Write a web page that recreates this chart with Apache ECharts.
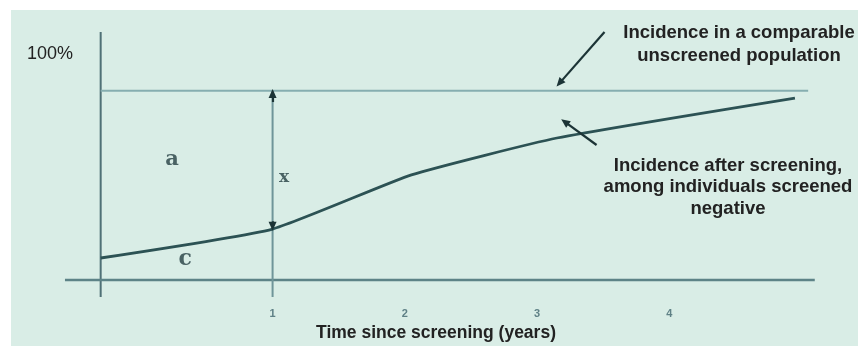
<!DOCTYPE html>
<html>
<head>
<meta charset="utf-8">
<script src="https://cdn.jsdelivr.net/npm/echarts@6/dist/echarts.min.js"></script>
<style>
html,body{margin:0;padding:0;background:#ffffff;}
#chart{width:858px;height:346px;}
</style>
</head>
<body>
<div id="chart"></div>
<script>
// ---- data ----
var years = [-0.3, 1, 2.05, 3.15, 4.95];              // time since screening
var screenedIncidence = [11.6, 26.9, 55.5, 75, 96.1];   // % incidence among screened-negative
var unscreenedIncidence = 100;                          // % comparable unscreened population
var tickValues = [1, 2, 3, 4];
var tickLabels = ['1', '2', '3', '4'];
var xLabel = 'Time since screening (years)';
var yTopLabel = '100%';

var lineData = years.map(function (y, i) { return [y, screenedIncidence[i]]; });

var bg = '#d9ede6';
var chart = echarts.init(document.getElementById('chart'));

var option = {
  backgroundColor: '#ffffff',
  animation: false,
  grid: { left: 61, right: 30, top: 32, bottom: 49 },
  xAxis: {
    type: 'value', min: -0.6, max: 5.2,
    axisLine: { show: false },
    splitLine: { show: false },
    axisTick: { show: false },
    axisLabel: {
      customValues: tickValues,
      formatter: function (v) { var i = tickValues.indexOf(v); return i >= 0 ? tickLabels[i] : ''; },
      color: '#5f8186', fontSize: 11, fontWeight: 'bold', margin: 11,
      fontFamily: 'Liberation Sans'
    }
  },
  yAxis: {
    type: 'value', min: -9, max: 131,
    show: false
  },
  graphic: [
    { type: 'rect', z: -10, silent: true, shape: { x: 11, y: 10, width: 847, height: 336 }, style: { fill: bg } },
    { type: 'text', z: 10, left: 27, top: 45, style: { text: yTopLabel, font: '18px "Liberation Sans"', fill: '#222' } },
    { type: 'text', z: 10, x: 739, y: 44, style: { text: 'Incidence in a comparable\nunscreened population', font: 'bold 18.5px "Liberation Sans"', fill: '#222', align: 'center', verticalAlign: 'middle', lineHeight: 23 } },
    { type: 'text', z: 10, x: 728, y: 187, style: { text: 'Incidence after screening,\namong individuals screened\nnegative', font: 'bold 18.5px "Liberation Sans"', fill: '#222', align: 'center', verticalAlign: 'middle', lineHeight: 21.5 } },
    { type: 'text', z: 10, x: 436, y: 333, style: { text: xLabel, font: 'bold 17.5px "Liberation Sans"', fill: '#222', align: 'center', verticalAlign: 'middle' } }
  ],
  series: [
    { name: 'yAxisLine', type: 'line', symbol: 'none', silent: true,
      data: [[-0.3, -9], [-0.3, 131]], lineStyle: { color: '#4f7176', width: 2 } },
    { name: 'baseline', type: 'line', symbol: 'none', silent: true,
      data: [[-0.57, 0], [5.1, 0]], lineStyle: { color: '#5d8387', width: 2.5 } },
    { name: 'unscreened', type: 'line', symbol: 'none', silent: true,
      data: [[-0.3, unscreenedIncidence], [5.05, unscreenedIncidence]], lineStyle: { color: '#86aeb0', width: 2 } },
    { name: 'year1', type: 'line', symbol: 'none', silent: true,
      data: [[1, -9], [1, unscreenedIncidence]], lineStyle: { color: '#6f9599', width: 2 } },
    { name: 'screened', type: 'line', symbol: 'none', silent: true, smooth: 0.15,
      data: lineData, lineStyle: { color: '#2c5254', width: 2.8 } },
    { name: 'annotations', type: 'line', symbol: 'none', silent: true, data: [],
      markLine: {
        silent: true, symbol: ['none', 'triangle'], symbolSize: [8, 9],
        label: { show: false },
        lineStyle: { type: 'solid', color: '#1c3436', width: 2.2 },
        data: [
          [{ coord: [1, 94] }, { coord: [1, unscreenedIncidence - 1.5] }],
          [{ coord: [1, 31] }, { coord: [1, screenedIncidence[1] + 1.5] }],
          [{ coord: [3.51, 131] }, { coord: [3.17, 104] }],
          [{ coord: [3.45, 71.3] }, { coord: [3.21, 83.5] }]
        ]
      }
    },
    { name: 'letters', type: 'scatter', symbolSize: 0, silent: true,
      data: [
        { value: [0.24, 63.4], label: { formatter: 'a', fontSize: 21 } },
        { value: [1.086, 54], label: { formatter: 'x', fontSize: 17 } },
        { value: [0.34, 11.1], label: { formatter: 'c', fontSize: 22 } }
      ],
      label: { show: true, position: 'inside', color: '#243f42', fontWeight: 'bold', fontFamily: 'DejaVu Serif' }
    }
  ]
};
chart.setOption(option);
</script>
</body>
</html>
